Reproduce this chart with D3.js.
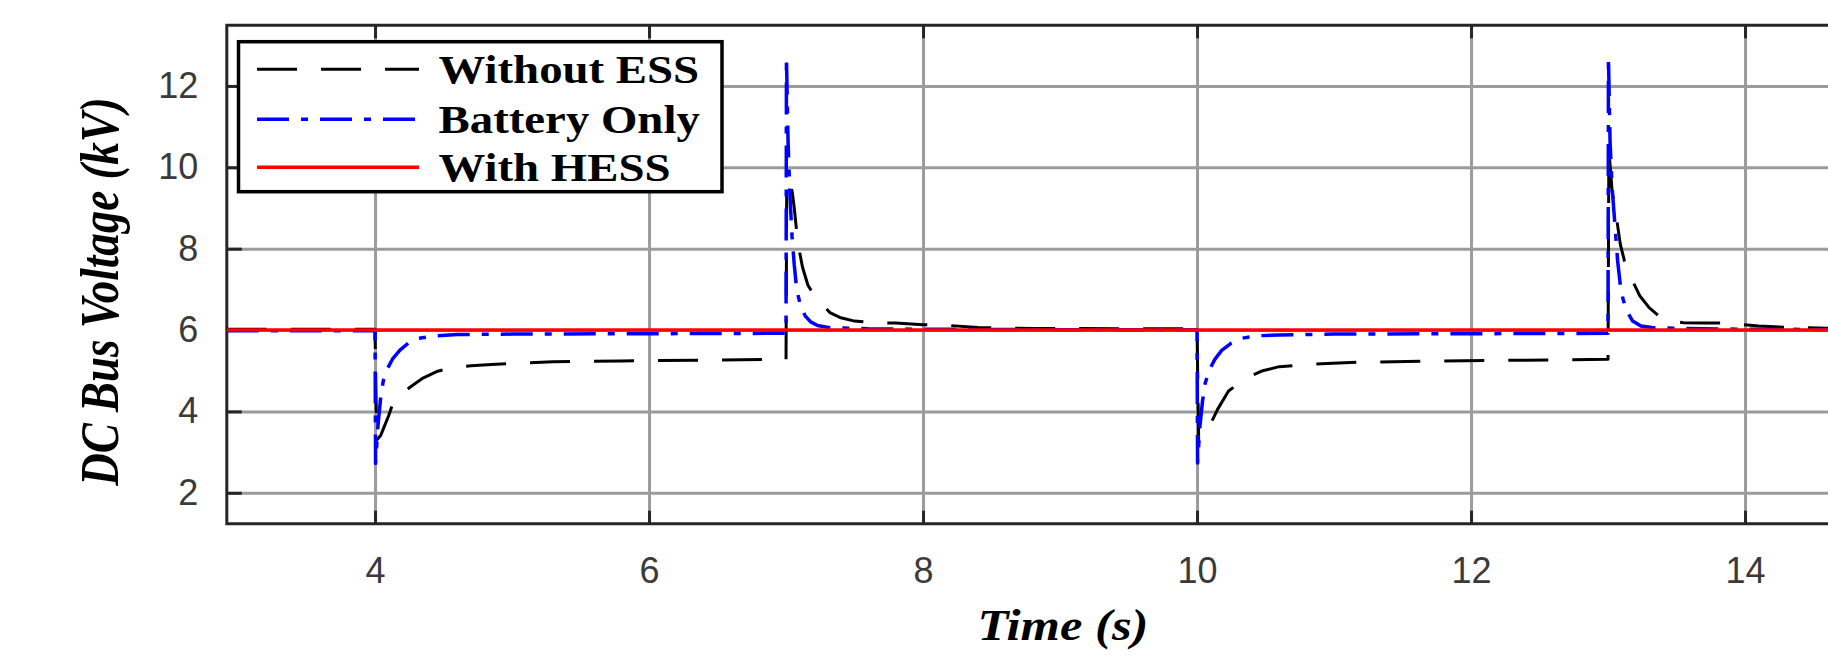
<!DOCTYPE html>
<html><head><meta charset="utf-8">
<script src="https://cdn.jsdelivr.net/npm/d3@7"></script>
<style>html,body{margin:0;padding:0;background:#fff;overflow:hidden}</style>
</head><body>
<svg id="chart" width="1828" height="659"></svg>
<script>
// ---- data (time in s, DC bus voltage in kV) ----
const seriesNames = ["Without ESS", "Battery Only", "With HESS"];
const withoutESS = [[2.918,6.02],[4.0,6.02],[4.012,3.3],[4.04,3.4],[4.07,3.65],[4.1,3.9],[4.13,4.2],[4.2,4.45],[4.27,4.63],[4.35,4.82],[4.45,4.98],[4.55,5.07],[4.7,5.12],[4.85,5.15],[5.0,5.18],[5.3,5.22],[5.8,5.24],[6.4,5.26],[7.0,5.28],[7.005,9.6],[7.025,9.72],[7.045,9.4],[7.06,9.0],[7.08,8.35],[7.1,7.9],[7.12,7.55],[7.16,7.1],[7.2,6.88],[7.25,6.68],[7.32,6.43],[7.4,6.3],[7.5,6.22],[7.65,6.18],[7.8,6.17],[8.0,6.13],[8.2,6.11],[8.4,6.06],[8.8,6.04],[9.5,6.03],[10.0,6.03],[10.012,3.26],[10.05,3.35],[10.1,3.7],[10.15,4.05],[10.23,4.5],[10.3,4.68],[10.4,4.88],[10.48,5.0],[10.6,5.1],[10.8,5.15],[10.95,5.18],[11.2,5.21],[11.8,5.24],[12.4,5.26],[13.0,5.28],[13.006,10.45],[13.03,9.4],[13.06,8.8],[13.09,8.1],[13.12,7.7],[13.15,7.4],[13.18,7.2],[13.23,6.85],[13.3,6.55],[13.37,6.35],[13.44,6.22],[13.55,6.18],[13.7,6.17],[13.85,6.17],[14.1,6.1],[14.35,6.06],[14.7,6.04],[15.0,6.03]];
const batteryOnly = [[2.918,5.98],[4.0,5.98],[4.004,2.72],[4.02,3.6],[4.04,4.3],[4.06,4.75],[4.09,5.05],[4.13,5.3],[4.18,5.5],[4.25,5.7],[4.32,5.8],[4.45,5.86],[4.6,5.89],[5.0,5.9],[6.0,5.91],[7.0,5.92],[7.003,12.71],[7.015,10.6],[7.03,9.2],[7.044,8.3],[7.06,7.6],[7.075,7.1],[7.09,6.82],[7.11,6.55],[7.14,6.35],[7.18,6.2],[7.23,6.11],[7.3,6.07],[7.4,6.05],[7.6,6.03],[8.0,6.02],[9.0,6.01],[10.0,6.01],[10.004,2.73],[10.02,3.6],[10.04,4.25],[10.06,4.7],[10.09,5.02],[10.13,5.28],[10.18,5.5],[10.25,5.68],[10.33,5.8],[10.45,5.86],[10.6,5.88],[11.0,5.9],[12.0,5.91],[13.0,5.92],[13.003,12.71],[13.015,10.6],[13.03,9.5],[13.05,8.6],[13.07,7.7],[13.09,7.1],[13.11,6.75],[13.14,6.45],[13.18,6.22],[13.24,6.1],[13.32,6.06],[13.5,6.04],[14.0,6.02],[15.0,6.01]];
const withHESS = [[2.918,6.0],[4.0,6.0],[7.0,6.0],[10.0,6.0],[13.0,6.0],[15.0,6.0]];
const xTicks = [4, 6, 8, 10, 12, 14];
const yTicks = [2, 4, 6, 8, 10, 12];
const xTitle = "Time (s)";
const yTitle = "DC Bus Voltage (kV)";

// ---- layout ----
const svg = d3.select("#chart");
const L = 226.8, T = 25.3, B = 523.7, R = 226.8 + 12.082 * 137;
const x = d3.scaleLinear().domain([2.918, 15]).range([L, R]);
const y = d3.scaleLinear().domain([1.24, 13.49]).range([B, T]);
const plotH = B - T, plotW = R - L;
const axisCol = "#262626", gridCol = "#9b9b9b";
const serif = "'Liberation Serif','Times New Roman',serif";
const sans = "'Liberation Sans',Arial,Helvetica,sans-serif";
const stretch = 1.2;

svg.append("defs").append("clipPath").attr("id", "clip")
  .append("rect").attr("x", L).attr("y", T).attr("width", plotW).attr("height", plotH);

// grid
const gx = svg.append("g").attr("transform", `translate(0,${B})`)
  .call(d3.axisBottom(x).tickValues(xTicks).tickSize(-plotH).tickFormat(""));
gx.select(".domain").remove();
gx.selectAll("line").attr("stroke", gridCol).attr("stroke-width", 3);
const gy = svg.append("g").attr("transform", `translate(${L},0)`)
  .call(d3.axisLeft(y).tickValues(yTicks).tickSize(-plotW).tickFormat(""));
gy.select(".domain").remove();
gy.selectAll("line").attr("stroke", gridCol).attr("stroke-width", 3);

// axes: ticks + labels
const ax = svg.append("g").attr("transform", `translate(0,${B})`)
  .call(d3.axisBottom(x).tickValues(xTicks).tickSizeInner(-13).tickSizeOuter(0).tickFormat(d3.format("d")));
ax.select(".domain").remove();
ax.selectAll("line").attr("stroke", axisCol).attr("stroke-width", 3);
ax.selectAll("text").attr("y", 59.6).attr("dy", 0)
  .attr("fill", "#3a3a3a").style("font-family", sans).style("font-size", "36px");

const axTop = svg.append("g").attr("transform", `translate(0,${T})`)
  .call(d3.axisTop(x).tickValues(xTicks).tickSizeInner(-13).tickSizeOuter(0).tickFormat(""));
axTop.select(".domain").remove();
axTop.selectAll("line").attr("stroke", axisCol).attr("stroke-width", 3);

const ay = svg.append("g").attr("transform", `translate(${L},0)`)
  .call(d3.axisLeft(y).tickValues(yTicks).tickSizeInner(-15).tickSizeOuter(0).tickFormat(d3.format("d")));
ay.select(".domain").remove();
ay.selectAll("line").attr("stroke", axisCol).attr("stroke-width", 3);
ay.selectAll("text").attr("x", -28.5).attr("dy", "0.32em").attr("text-anchor", "end")
  .attr("fill", "#3a3a3a").style("font-family", sans).style("font-size", "36px");

// border (top, left, bottom; right edge is outside the picture)
svg.append("path")
  .attr("d", `M${R},${T}H${L}V${B}H${R}`)
  .attr("fill", "none").attr("stroke", axisCol).attr("stroke-width", 3);

// series
const line = d3.line().x(d => x(d[0])).y(d => y(d[1]));
const lines = svg.append("g").attr("clip-path", "url(#clip)");
const styles = [
  { data: withoutESS, color: "#000000", width: 3, dash: "40 24" },
  { data: batteryOnly, color: "#0000ff", width: 3.5, dash: "32 12 7 12" },
  { data: withHESS, color: "#ff0000", width: 3.5, dash: null }
];
styles.forEach(s => {
  lines.append("path").attr("d", line(s.data)).attr("fill", "none")
    .attr("stroke", s.color).attr("stroke-width", s.width)
    .attr("stroke-dasharray", s.dash).attr("stroke-linejoin", "round");
});

// legend
const lg = svg.append("g");
lg.append("rect").attr("x", 238.5).attr("y", 41.7).attr("width", 483.5).attr("height", 150)
  .attr("fill", "#fff").attr("stroke", "#000").attr("stroke-width", 3.5);
const rowY = [69.3, 119.3, 167.3];
styles.forEach((s, i) => {
  lg.append("line").attr("x1", 257).attr("x2", 419).attr("y1", rowY[i]).attr("y2", rowY[i])
    .attr("stroke", s.color).attr("stroke-width", s.width).attr("stroke-dasharray", s.dash);
  lg.append("text").text(seriesNames[i])
    .attr("transform", `translate(438.6,${rowY[i] + 13.8}) scale(${stretch},1)`)
    .style("font-family", serif).style("font-weight", "bold").style("font-size", "39px")
    .attr("fill", "#000");
});

// axis titles
svg.append("text").text(xTitle)
  .attr("transform", `translate(1063,640) scale(1.15,1)`)
  .attr("text-anchor", "middle")
  .style("font-family", serif).style("font-weight", "bold").style("font-style", "italic")
  .style("font-size", "44px").attr("fill", "#000");
svg.append("text").text(yTitle)
  .attr("transform", `translate(118.3,291.5) scale(${stretch},1) rotate(-90)`)
  .attr("text-anchor", "middle")
  .style("font-family", serif).style("font-weight", "bold").style("font-style", "italic")
  .style("font-size", "45px").attr("fill", "#000");
</script>
</body></html>
